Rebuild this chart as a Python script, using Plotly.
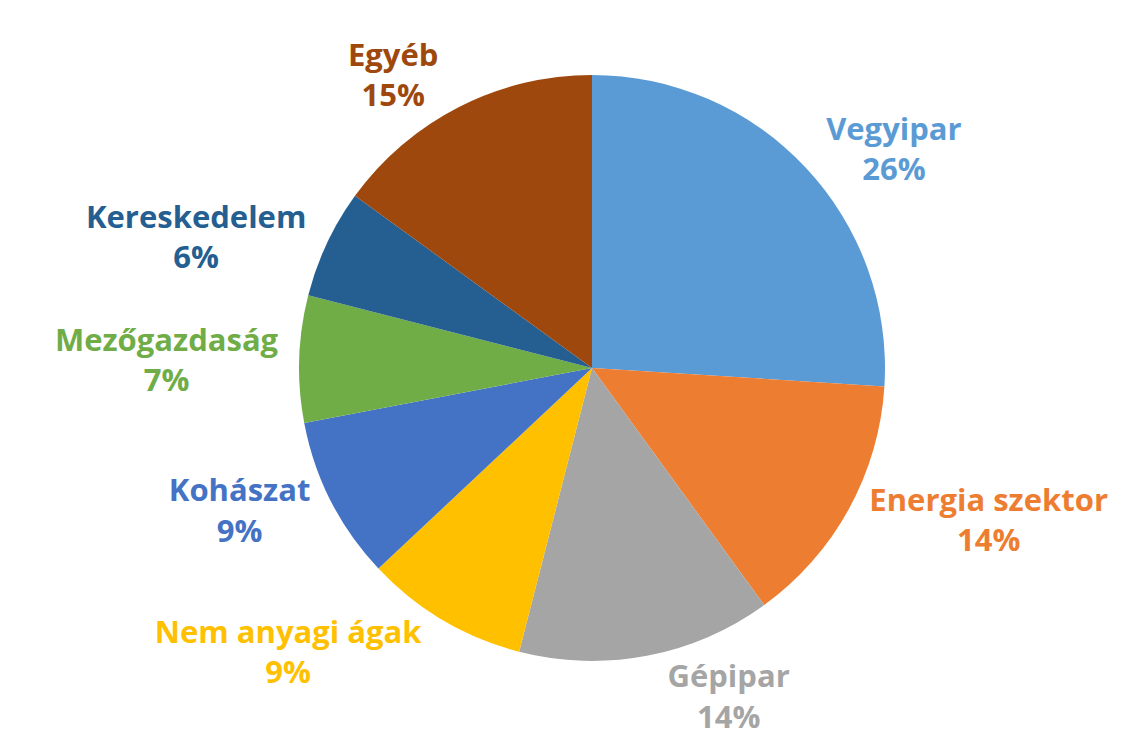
import plotly.graph_objects as go

categories = ["Vegyipar", "Energia szektor", "Gépipar", "Nem anyagi ágak",
              "Kohászat", "Mezőgazdaság", "Kereskedelem", "Egyéb"]
values = [26, 14, 14, 9, 9, 7, 6, 15]
colors = ["#5B9BD5", "#ED7D31", "#A5A5A5", "#FFC000",
          "#4472C4", "#70AD47", "#255E91", "#9E480E"]

fig = go.Figure(go.Pie(
    labels=categories,
    values=values,
    sort=False,
    direction="clockwise",
    rotation=0,
    marker=dict(colors=colors, line=dict(width=0)),
    textposition="outside",
    texttemplate="<b>%{label}</b><br><b>%{percent:.0%}</b>",
    textfont=dict(family="Open Sans", size=31, color=colors),
    showlegend=False,
    domain=dict(x=[0.2544, 0.7666], y=[0.1152, 0.9092]),
))
fig.update_layout(
    width=1144, height=738,
    margin=dict(l=0, r=0, t=0, b=0),
    paper_bgcolor="white",
    plot_bgcolor="white",
)
fig.write_html("out.html")
